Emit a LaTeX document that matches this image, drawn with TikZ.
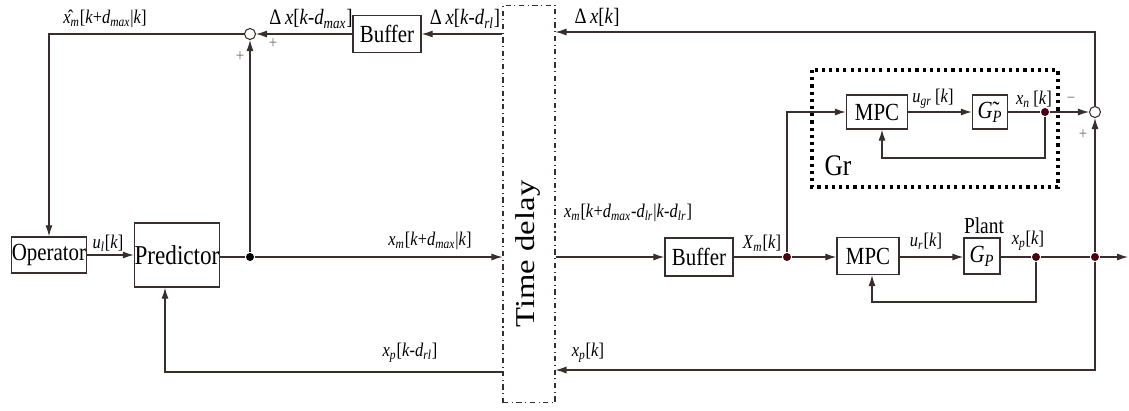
\documentclass[tikz,border=0pt]{standalone}
\usepackage{fontspec}
\setmainfont{Liberation Serif}[FakeStretch=0.85]
\newfontfamily\tdfont{Liberation Serif}[FakeStretch=1.2]
\usetikzlibrary{arrows.meta,calc}
\newcommand{\sbi}[1]{\textsubscript{\textit{#1}}}
\newcommand{\vi}[1]{\textit{#1}}
\definecolor{ln}{rgb}{0.22,0.18,0.18}
\definecolor{dotc}{rgb}{0.28,0.02,0.06}
\begin{document}
\begin{tikzpicture}[x=0.02cm,y=-0.02cm,
  color=ln, line width=0.6pt,
  blk/.style={draw=ln,line width=0.8pt,rectangle,inner sep=0pt,text=black,font=\fontsize{14}{16}\selectfont},
  lbl/.style={inner sep=0pt,text=black,font=\fontsize{11}{13}\selectfont},
  dlbl/.style={inner sep=0pt,text=black,font=\fontsize{12.5}{14}\selectfont},
  sgn/.style={inner sep=0pt,font=\fontsize{10}{12}\selectfont,text=ln!70},
  arr/.style={-{Latex[length=2.2mm,width=1.4mm]}},
  jdot/.style={circle,fill=dotc,draw=none,minimum size=1.6mm,inner sep=0pt},
  sumn/.style={circle,draw=ln,fill=white,line width=0.6pt,minimum size=2.2mm,inner sep=0pt},
  tdbox/.style={draw=ln,dash dot,line width=0.6pt,inner sep=0pt},
  grbox/.style={draw=black,line width=1.8pt,dash pattern=on 1.8pt off 2.3pt}]
\path[use as bounding box] (0,0) rectangle (1129,410);
% blocks
\node[blk,minimum width=1.5cm,minimum height=0.72cm] (op) at (49,255) {Operator};
\node[blk,minimum width=1.7cm,minimum height=1.28cm,font=\fontsize{15.5}{17}\selectfont] (pred) at (177,255) {Predictor};
\node[sumn] (sum1) at (250,34) {};
\node[blk,minimum width=1.36cm,minimum height=0.74cm] (buf1) at (387,34) {Buffer};
\node[tdbox,minimum width=1.04cm,minimum height=7.96cm] (td) at (529,204) {};
\node[inner sep=0pt,rotate=90,text=black,font=\tdfont\fontsize{15.5}{17}\selectfont] (tdt) at (528,254) {Time delay};
\node[sumn] (sum2) at (1095,112) {};
\node[blk,minimum width=1.22cm,minimum height=0.68cm] (mpc1) at (877,112) {MPC};
\node[blk,minimum width=0.7cm,minimum height=0.68cm] (gt) at (990,112) {\~{\vi{G}}\sbi{P}};
\draw[grbox] (812,70) rectangle (1058,187);
\node[inner sep=0pt,text=black,font=\fontsize{17}{19}\selectfont] (gr) at (838,166) {Gr};
\node[blk,minimum width=1.36cm,minimum height=0.76cm] (buf2) at (699,257) {Buffer};
\node[blk,minimum width=1.24cm,minimum height=0.74cm] (mpc2) at (868,256) {MPC};
\node[blk,minimum width=0.72cm,minimum height=0.72cm] (gp) at (982,256) {\vi{G}\sbi{P}};
\node[inner sep=0pt,text=black,font=\fontsize{13}{15}\selectfont] (plant) at (984,226) {Plant};
% junctions
\node[jdot,fill=black] (j1) at (250,257) {};
\node[jdot] (j2) at (787,257) {};
\node[jdot] (j3) at (1036,257) {};
\node[jdot] (j4) at (1095,257) {};
\node[jdot] (j5) at (1045,112) {};
\coordinate (pb) at (165,372);
\coordinate (b2) at (1095,370);
\coordinate (t2) at (1095,32);
\coordinate (f1) at (882,158);
\coordinate (f2) at (872,302);
\coordinate (out) at (1128,257);
% left connectors
\draw[arr] (sum1.west) -| (op.north);
\draw[arr] (op.east) -- (op.east -| pred.west);
\draw (pred.east |- j1) -- (j1);
\draw[arr] (j1) -- (sum1.south);
\draw[arr] (j1) -- (j1 -| td.west);
\draw[arr] (td.west |- pb) -- (pb) -- (pb |- pred.south);
\draw[arr] (buf1.east -| td.west) -- (buf1.east);
\draw[arr] (buf1.west) -- (sum1.east);
% right connectors
\draw[arr] (sum2.north) -- (t2) -- (t2 -| td.east);
\draw[arr] (td.east |- buf2.west) -- (buf2.west);
\draw (buf2.east) -- (j2);
\draw[arr] (j2) -- (mpc2.west |- j2);
\draw[arr] (mpc2.east |- j2) -- (gp.west |- j2);
\draw (gp.east |- j2) -- (j3) -- (j4);
\draw[arr] (j4) -- (out);
\draw[arr] (j3) |- (f2) -- (f2 |- mpc2.south);
\draw[arr] (j4) -- (b2) -- (b2 -| td.east);
\draw[arr] (j2) |- (mpc1.west);
\draw[arr] (mpc1.east) -- (gt.west);
\draw (gt.east) -- (j5);
\draw[arr] (j5) -- (sum2.west);
\draw[arr] (j5) |- (f1) -- (f1 |- mpc1.south);
\draw[arr] (j4) -- (sum2.south);
% labels
\node[lbl] (l1) at (105,19) {\^{\vi{x}}\sbi{m}[\vi{k}+\vi{d}\sbi{max}|\vi{k}]};
\node[dlbl] (l2) at (311,19) {Δ\,\vi{x}[\vi{k}-\vi{d}\sbi{max}]};
\node[dlbl] (l3) at (465,19) {Δ\,\vi{x}[\vi{k}-\vi{d}\sbi{rl}]};
\node[dlbl] (l4) at (597,17) {Δ\,\vi{x}[\vi{k}]};
\node[sgn] (p1) at (240,57) {+};
\node[sgn] (p2) at (273,44) {+};
\node[lbl] (l5) at (933,99) {\vi{u}\sbi{gr}\,[\vi{k}]};
\node[lbl] (l6) at (1034,99) {\vi{x}\sbi{n}\,[\vi{k}]};
\node[sgn] (m1) at (1071,100) {−};
\node[sgn] (p3) at (1083,135) {+};
\node[lbl] (l7) at (108,243) {\vi{u}\sbi{l}[\vi{k}]};
\node[lbl] (l8) at (430,241) {\vi{x}\sbi{m}[\vi{k}+\vi{d}\sbi{max}|\vi{k}]};
\node[lbl] (l9) at (410,353) {\vi{x}\sbi{p}[\vi{k}-\vi{d}\sbi{rl}]};
\node[lbl] (l10) at (628,213) {\vi{x}\sbi{m}[\vi{k}+\vi{d}\sbi{max}-\vi{d}\sbi{lr}|\vi{k}-\vi{d}\sbi{lr}]};
\node[lbl] (l11) at (762,243) {\vi{X}\sbi{m}[\vi{k}]};
\node[lbl] (l12) at (926,241) {\vi{u}\sbi{r}[\vi{k}]};
\node[lbl] (l13) at (1028,241) {\vi{x}\sbi{p}[\vi{k}]};
\node[lbl] (l14) at (588,353) {\vi{x}\sbi{p}[\vi{k}]};
\end{tikzpicture}
\end{document}
